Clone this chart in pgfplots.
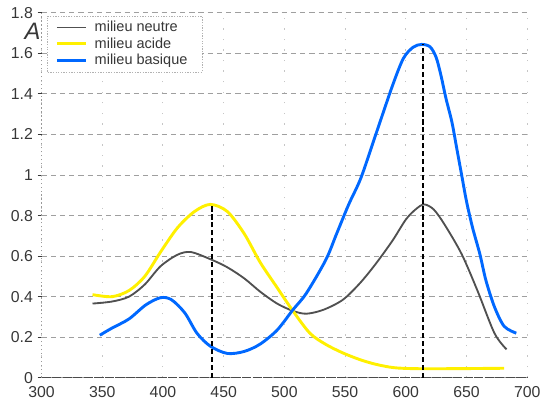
\documentclass[border=0pt]{standalone}
\usepackage{pgfplots}
\pgfplotsset{compat=1.18}
\usepackage{fontspec}
\setmainfont{Liberation Sans}

\definecolor{acide}{RGB}{255,240,0}
\definecolor{basique}{RGB}{0,104,255}
\definecolor{neutre}{RGB}{80,80,80}
\definecolor{scan}{RGB}{55,55,55}

\begin{document}
\begin{tikzpicture}
\begin{axis}[
    scale only axis,
    width=368.25pt, height=276.75pt,
    xmin=300, xmax=700, ymin=0, ymax=1.8,
    xtick={300,350,400,450,500,550,600,650,700},
    ytick={0,0.2,0.4,0.6,0.8,1,1.2,1.4,1.6,1.8},
    axis lines=left,
    axis line style={-},
    x axis line style={scan!90, line width=1pt, dash pattern=on 7pt off 1pt},
    y axis line style={gray!80, line width=0.8pt, dash pattern=on 1pt off 2pt},
    tick align=outside,
    major tick length=3pt,
    xtick style={draw=none},
    ytick style={scan, line width=0.6pt},
    ymajorgrids, xmajorgrids,
    y grid style={gray!75, line width=0.7pt, dash pattern=on 4pt off 3pt},
    x grid style={gray!45, line width=0.7pt, dash pattern=on 1pt off 7pt},
    tick label style={font=\fontsize{12}{14}\selectfont, text=scan},
    /pgf/number format/assume math mode=true,
    yticklabel style={/pgf/number format/.cd, fixed, precision=1},
    legend style={at={(0.012,0.992)}, anchor=north west, fill=white,
        draw=gray!60, dash pattern=on 1pt off 1pt, inner xsep=6pt, inner ysep=2.5pt,
        font=\fontsize{11}{13}\selectfont, text=scan,
        nodes={inner sep=1.5pt},
        /tikz/every odd column/.append style={column sep=4pt}},
    legend cell align=left,
    legend image code/.code={\draw[#1, solid] (0pt,0pt) -- (22pt,0pt);},
    clip=false,
]
% milieu neutre
\addplot[neutre, solid, line width=1.4pt, smooth, tension=0.5] coordinates {
    (342,0.366) (358,0.376) (372,0.40) (385,0.46) (398,0.55) (412,0.607)
    (423,0.62) (439,0.585) (453,0.545) (467,0.49) (480,0.425) (494,0.366)
    (507,0.33) (518,0.316) (532,0.335) (548,0.384) (562,0.465) (575,0.56)
    (589,0.676) (600,0.78) (608,0.83) (615,0.855) (623,0.83) (632,0.755)
    (646,0.61) (659,0.43) (673,0.22) (683,0.14)
};
\addlegendentry{\makebox[74pt][l]{milieu neutre}}

% milieu acide
\addplot[acide, solid, line width=2.2pt, smooth, tension=0.5] coordinates {
    (342,0.41) (358,0.40) (372,0.43) (385,0.50) (398,0.62) (412,0.74)
    (426,0.82) (439,0.855) (453,0.82) (467,0.71) (480,0.57) (494,0.445)
    (507,0.33) (521,0.22) (534,0.165) (548,0.123) (562,0.09) (575,0.067)
    (590,0.05) (608,0.045) (640,0.045) (681,0.047)
};
\addlegendentry{\makebox[74pt][l]{milieu acide}}

% milieu basique
\addplot[basique, solid, line width=2.2pt, smooth, tension=0.5] coordinates {
    (348,0.21) (358,0.245) (372,0.29) (386,0.36) (398,0.395) (407,0.385)
    (418,0.32) (428,0.22) (439,0.156) (453,0.12) (467,0.13) (480,0.166)
    (494,0.235) (507,0.335) (518,0.416) (534,0.58) (543,0.71) (553,0.855)
    (563,0.985) (575,1.195) (589,1.44) (598,1.575) (606,1.63) (613,1.644)
    (620,1.632) (625,1.58) (629,1.49) (633,1.38) (638,1.26) (642,1.13)
    (646,1.0) (650,0.87) (655,0.74) (661,0.61) (666,0.48) (673,0.35)
    (681,0.254) (691,0.22)
};
\addlegendentry{\makebox[74pt][l]{milieu basique}}

% lambda max
\addplot[black, line width=1.5pt, dash pattern=on 4pt off 2pt, forget plot]
    coordinates {(440,0) (440,0.855)};
\addplot[black, line width=1.5pt, dash pattern=on 4pt off 2pt, forget plot]
    coordinates {(614,0) (614,1.644)};

\node[font=\fontsize{18}{18}\selectfont\itshape, text=scan] at (axis cs:292.7,1.71) {A};

\coordinate (bbsw) at (axis cs:265.8,-0.117);
\coordinate (bbne) at (axis cs:713,1.863);
\end{axis}
\pgfresetboundingbox
\useasboundingbox (bbsw) rectangle (bbne);
\end{tikzpicture}
\end{document}
